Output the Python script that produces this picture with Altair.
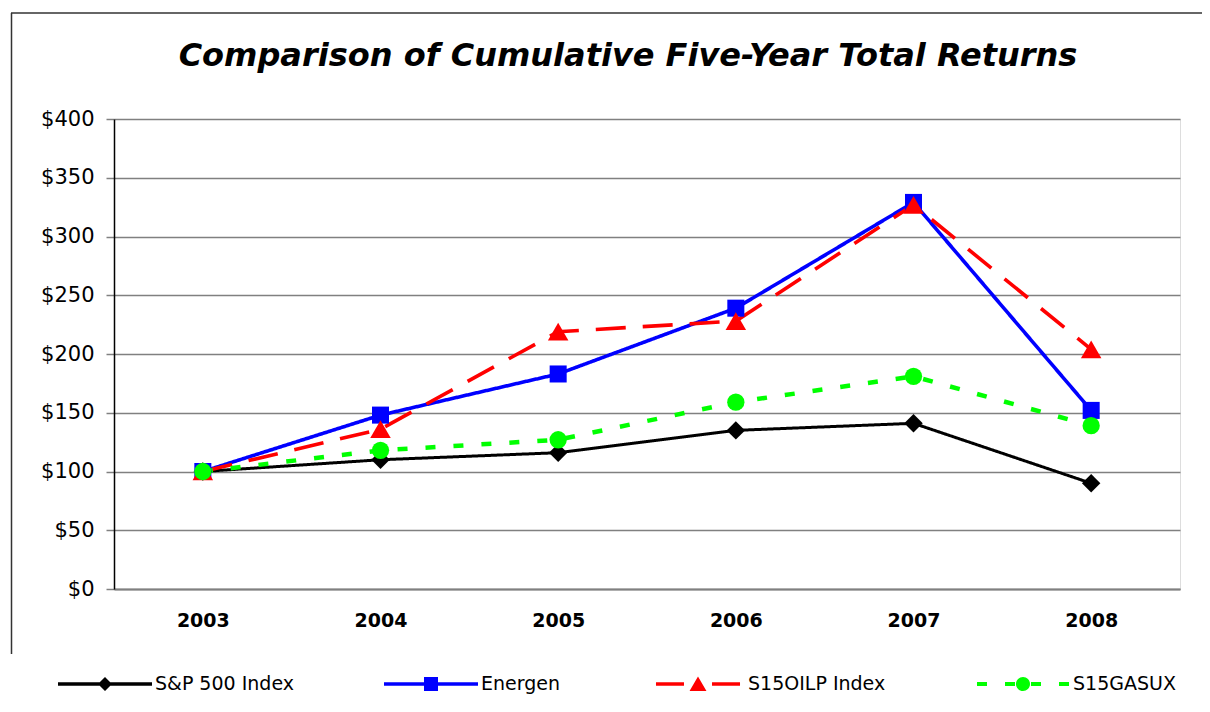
import json
import altair as alt
import pandas as pd

# ---------------- data ----------------
years = ["2003", "2004", "2005", "2006", "2007", "2008"]
series_names = ["S&P 500 Index", "Energen", "S15OILP Index", "S15GASUX"]
sp500 = [100, 110, 116, 135, 141, 90]
energen = [100, 148, 183, 239, 329, 152]
s15oilp = [100, 136, 219, 228, 327, 204]
s15gasux = [100, 118, 127, 159, 181, 139]
y_ticks = [0, 50, 100, 150, 200, 250, 300, 350, 400]
title_text = "Comparison of Cumulative Five-Year Total Returns"

rows = []
for name, vals in zip(series_names, [sp500, energen, s15oilp, s15gasux]):
    for yr, v in zip(years, vals):
        rows.append({"year": yr, "series": name, "value": v})
df = pd.DataFrame(rows)

# ---------------- styles ----------------
colors = ["#000000", "#0000FF", "#FF0000", "#00FF00"]
dashes = [[1, 0], [1, 0], [30, 17], [10, 18]]
widths = [3.0, 3.6, 3.6, 4.5]
shapes = ["diamond", "square", "triangle-up", "circle"]
sizes = [340, 290, 420, 300]

# legend symbols: line + marker, drawn in a [-1, 1] box (scaled by 47px)
legend_paths = [
    "M-1,-0.037H1V0.037H-1Z M0,-0.149L0.149,0L0,0.149L-0.149,0Z",
    "M-1,-0.037H1V0.037H-1Z M-0.149,-0.149H0.149V0.149H-0.149Z",
    "M-0.894,-0.037H-0.298V0.037H-0.894Z M0.298,-0.037H0.894V0.037H0.298Z "
    "M0,-0.16L0.18,0.15L-0.18,0.15Z",
    "M-0.979,-0.043H-0.766V0.043H-0.979Z M-0.383,-0.043H-0.17V0.043H-0.383Z "
    "M0.17,-0.043H0.383V0.043H0.17Z M0.766,-0.043H0.979V0.043H0.766Z "
    "M-0.149,0A0.149,0.149 0 1,1 0.149,0A0.149,0.149 0 1,1 -0.149,0Z",
]
names_js = json.dumps(series_names)


def pick(values, key):
    return {"expr": f"{json.dumps(values)}[indexof({names_js}, {key})]"}


FONT = "DejaVu Sans"

color_scale = alt.Scale(domain=series_names, range=colors)

x_enc = alt.X(
    "year:O",
    sort=years,
    scale=alt.Scale(type="point", padding=0.5),
    axis=alt.Axis(
        title=None, labelAngle=0, labelFont=FONT, labelFontWeight="bold",
        labelFontSize=19, labelColor="black", ticks=False, labelPadding=22,
        domainColor="#808080", domainWidth=2, grid=False,
    ),
)
y_enc = alt.Y(
    "value:Q",
    scale=alt.Scale(domain=[0, 400], nice=False),
    axis=alt.Axis(
        title=None, values=y_ticks, format="$.0f", labelFont=FONT,
        labelFontSize=21, labelColor="black", labelPadding=12,
        tickSize=8, tickColor="#808080", tickWidth=1.5,
        domainColor="#000000", domainWidth=1.5,
        gridColor="#808080", gridWidth=1.5,
    ),
)

base = alt.Chart(df)

# legend-only layer (draws no marks; carries the combined line+marker legend)
legend_layer = base.transform_filter("false").mark_point(filled=True).encode(
    color=alt.Color(
        "series:N",
        scale=color_scale,
        legend=alt.Legend(
            title=None, orient="none", legendX=-56, legendY=518,
            direction="horizontal", columns=4, columnPadding=90,
            symbolSize=8836, symbolStrokeWidth=0, symbolOpacity=1,
            symbolType=pick(legend_paths, "datum.value"),
            labelFont=FONT, labelFontSize=19, labelColor="black",
            labelOffset=3, padding=0, labelLimit=300,
        ),
    ),
)

lines = base.mark_line(
    strokeCap="butt",
    strokeDash=pick(dashes, "datum.series"),
    strokeWidth=pick(widths, "datum.series"),
).encode(
    x=x_enc,
    y=y_enc,
    color=alt.Color("series:N", scale=color_scale, legend=None),
    detail="series:N",
)

points = base.mark_point(
    filled=True, opacity=1, strokeWidth=0,
    shape=pick(shapes, "datum.series"),
    size=pick(sizes, "datum.series"),
).encode(
    x=x_enc,
    y=y_enc,
    color=alt.Color("series:N", scale=color_scale, legend=None),
)

deco = alt.Chart(alt.Data(values=[{}]))
top_border = deco.mark_rule(color="#333333", strokeWidth=1.5).encode(
    x=alt.value(-103), x2=alt.value(1100), y=alt.value(-106)
)
left_border = deco.mark_rule(color="#333333", strokeWidth=1.5).encode(
    x=alt.value(-102.5), y=alt.value(-106), y2=alt.value(535)
)
title = deco.mark_text(
    text=title_text, font=FONT, fontSize=32, fontWeight="bold",
    fontStyle="italic", color="black", align="center", baseline="alphabetic",
).encode(x=alt.value(514), y=alt.value(-53))

chart = alt.layer(legend_layer, top_border, left_border, title, lines, points).properties(
    width=1066,
    height=470,
    autosize=alt.AutoSizeParams(type="none"),
    padding={"left": 106, "top": 111, "right": 22, "bottom": 109},
).configure_view(
    stroke="#808080", strokeWidth=2
).configure(background="white")

chart.save("out.html", embed_options={"renderer": "svg", "actions": False})
